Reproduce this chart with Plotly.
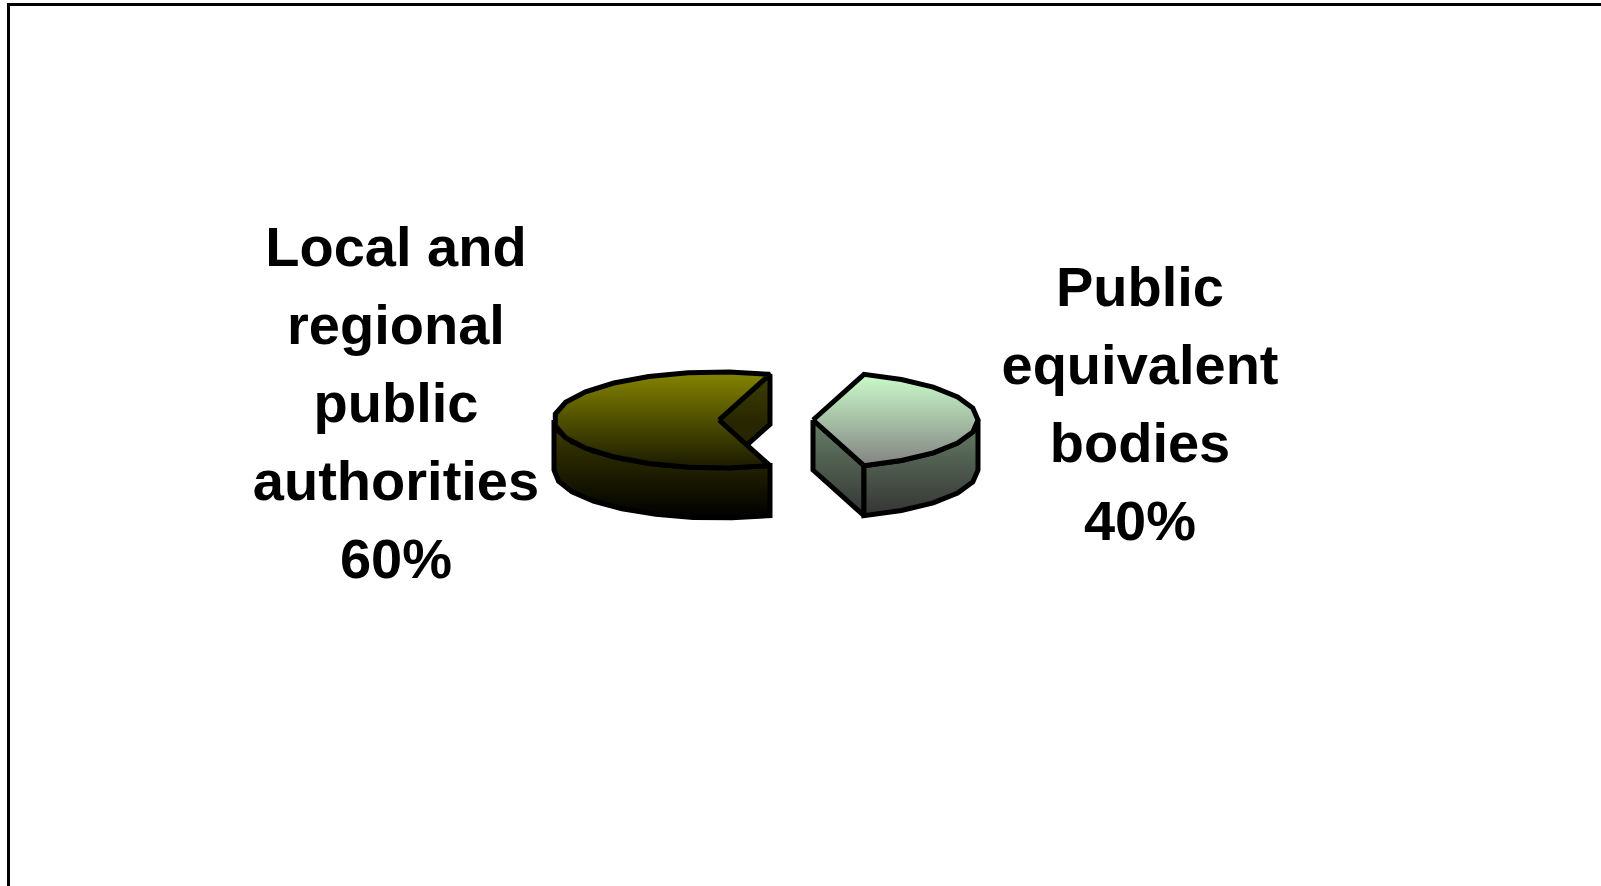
import numpy as np
import plotly.graph_objects as go

# --- chart data ---
categories = ["Local and regional public authorities", "Public equivalent bodies"]
values = [60, 40]
left_label_lines = ["Local and", "regional", "public", "authorities", "60%"]
right_label_lines = ["Public", "equivalent", "bodies", "40%"]

# --- styling / layout parameters (pixels in a 1601x886 canvas) ---
W, H = 1601, 886
RX, RY, DEPTH = 165, 48, 50
LEFT_CENTER = (719, 420)
RIGHT_CENTER = (813, 420)
STEP = 14.4  # coarse facets, as in the low-resolution original
OUTLINE = dict(color="black", width=5)
FONT = dict(family="Liberation Sans", size=56, color="black", weight="bold")
LINE_GAP = 78
LEFT_TEXT = (396, 252)
RIGHT_TEXT = (1140, 292)

# The second slice is centred on the +x axis, so half its sweep sets the cut angle.
START_ANGLE = values[1] / sum(values) * 360 / 2


def arc(center, a0, a1, dy=0):
    n = max(2, int(round(abs(a1 - a0) / STEP)) + 1)
    t = np.radians(np.linspace(a0, a1, n))
    return center[0] + RX * np.cos(t), center[1] - RY * np.sin(t) + dy


def poly(fig, xs, ys, top, bottom, c0, c1, name):
    fig.add_trace(go.Scatter(
        x=list(xs) + [xs[0]], y=list(ys) + [ys[0]], mode="lines", fill="toself",
        line=dict(color=OUTLINE["color"], width=OUTLINE["width"], shape="linear"),
        fillgradient=dict(type="vertical", start=top, stop=bottom,
                          colorscale=[[0, c0], [1, c1]]),
        hoverinfo="skip", showlegend=False, name=name))


fig = go.Figure()

sweep_big = values[0] / sum(values) * 360
sweep_small = values[1] / sum(values) * 360

# Big slice, spanning from START_ANGLE counter-clockwise through the left side.
a0, a1 = START_ANGLE, START_ANGLE + sweep_big
cx, cy = LEFT_CENTER
ax, ay = arc(LEFT_CENTER, a0, a0)
ex, ey = arc(LEFT_CENTER, a1, a1)
# inner cut face
poly(fig, [cx, ax[0], ax[0], cx], [cy, ay[0], ay[0] + DEPTH, cy + DEPTH],
     ay[0], ay[0] + DEPTH, "#403f00", "#262600", categories[0] + " cut")
# outer wall (visible front part)
wx, wy = arc(LEFT_CENTER, 180, a1)
poly(fig, list(wx) + list(wx[::-1]), list(wy) + list(wy[::-1] + DEPTH),
     cy, cy + RY + DEPTH, "#403f00", "#000000", categories[0] + " wall")
# top face
tx, ty = arc(LEFT_CENTER, a0, a1)
poly(fig, [cx] + list(tx), [cy] + list(ty), cy - RY, cy + RY,
     "#858500", "#1a1a00", categories[0])

# Small slice, spanning from -START_ANGLE counter-clockwise to START_ANGLE.
b0, b1 = -START_ANGLE, -START_ANGLE + sweep_small
cx, cy = RIGHT_CENTER
sx, sy = arc(RIGHT_CENTER, b0, b0)
# cut face
poly(fig, [cx, sx[0], sx[0], cx], [cy, sy[0], sy[0] + DEPTH, cy + DEPTH],
     cy, cy + RY + DEPTH, "#667f66", "#333333", categories[1] + " cut")
# outer wall
wx, wy = arc(RIGHT_CENTER, b0, 0)
poly(fig, list(wx) + list(wx[::-1]), list(wy) + list(wy[::-1] + DEPTH),
     cy, cy + RY + DEPTH, "#667f66", "#333333", categories[1] + " wall")
# top face
tx, ty = arc(RIGHT_CENTER, b0, b1)
poly(fig, [cx] + list(tx), [cy] + list(ty), cy - RY, cy + RY,
     "#ccffcc", "#808080", categories[1])

# Labels
for lines, (x0, y0) in ((left_label_lines, LEFT_TEXT), (right_label_lines, RIGHT_TEXT)):
    fig.add_trace(go.Scatter(
        x=[x0] * len(lines), y=[y0 + i * LINE_GAP for i in range(len(lines))],
        mode="text", text=lines, textposition="middle center", textfont=FONT,
        hoverinfo="skip", showlegend=False, cliponaxis=False))

fig.update_layout(
    width=W, height=H, margin=dict(l=0, r=0, t=0, b=0),
    paper_bgcolor="white", plot_bgcolor="white", showlegend=False,
    xaxis=dict(range=[0, W], visible=False, fixedrange=True),
    yaxis=dict(range=[H, 0], visible=False, fixedrange=True),
    shapes=[
        dict(type="line", xref="paper", yref="paper", x0=8.5 / W, x1=8.5 / W, y0=0, y1=1 - 3 / H,
             line=dict(color="black", width=3)),
        dict(type="line", xref="paper", yref="paper", x0=7 / W, x1=1, y0=1 - 4.5 / H, y1=1 - 4.5 / H,
             line=dict(color="black", width=3)),
    ],
)

fig.write_html("out.html", config={"displayModeBar": False},
               post_script="document.body.style.margin='0';document.documentElement.style.overflow='hidden';")
